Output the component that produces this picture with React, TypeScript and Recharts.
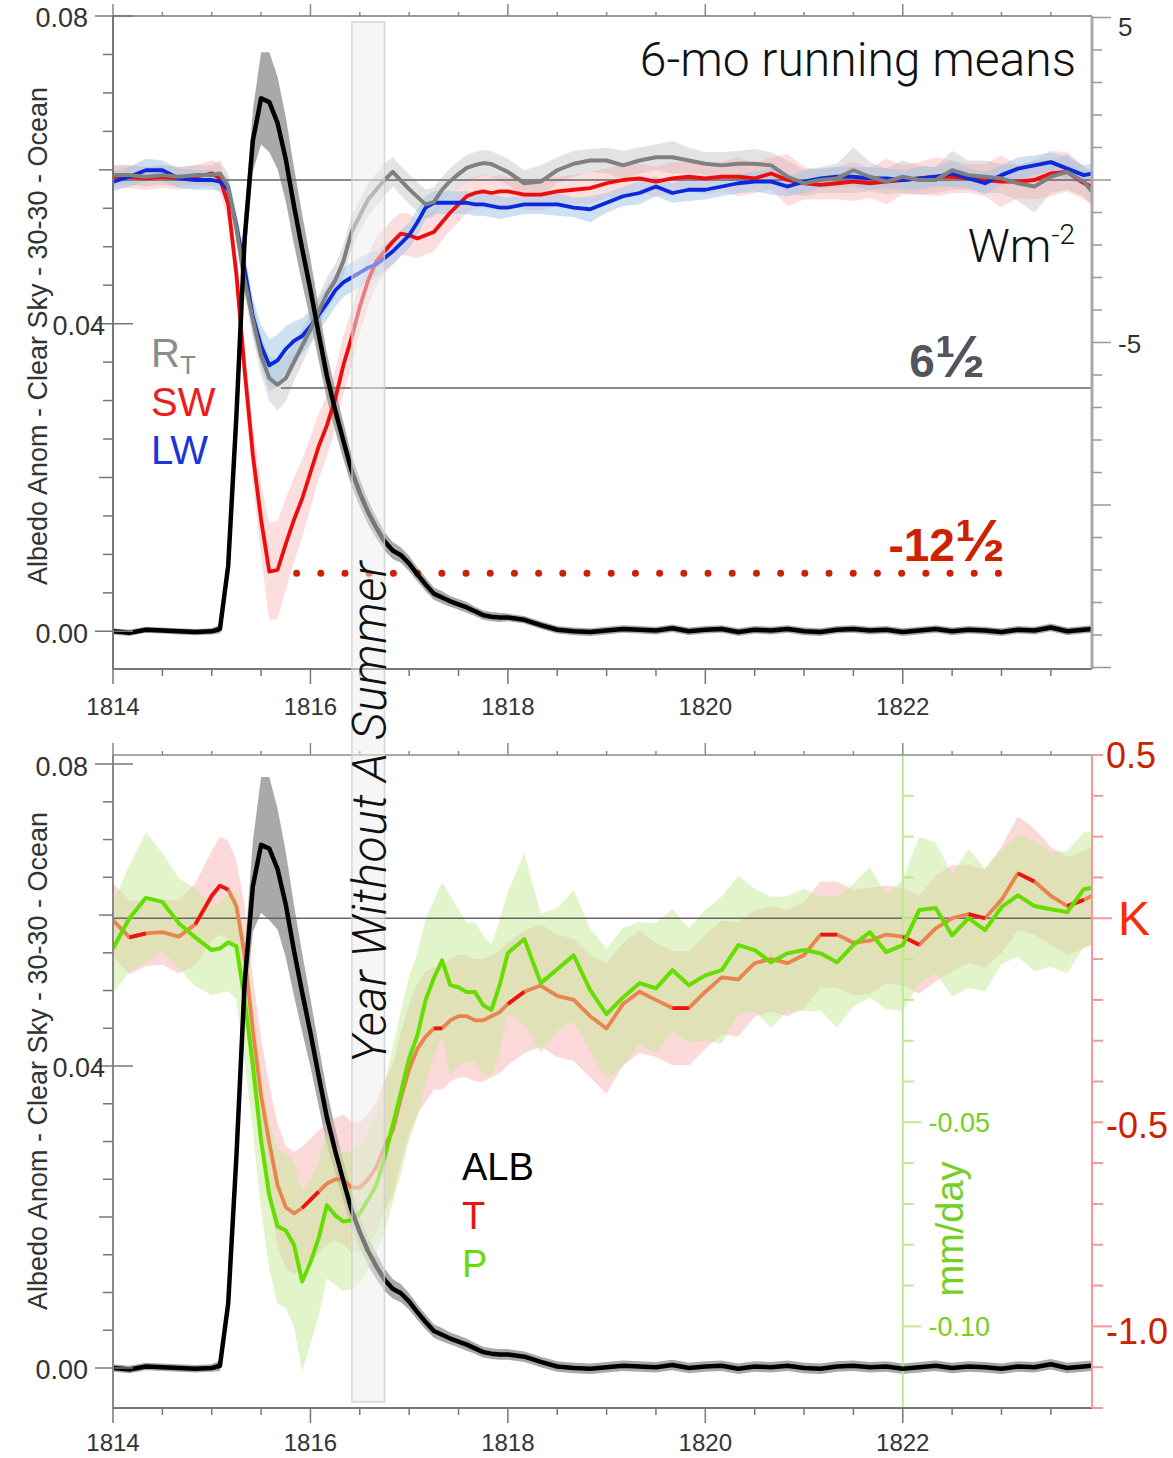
import React from 'react';
import { ComposedChart, Area, Line, XAxis, YAxis, ReferenceLine } from 'recharts';

// month offsets from Jan 1814 (bi-monthly outside the eruption years)
const months = [
  0, 2, 4, 6, 8, 10,
  12, 13, 14, 15, 16, 17, 18, 19, 20, 21, 22, 23, 24, 25, 26, 27, 28, 29,
  30, 31, 32, 33, 34, 35, 36, 37, 38, 39, 40, 41, 42, 43, 44, 45, 46, 47,
  48, 50, 52, 54, 56, 58, 60, 62, 64, 66, 68, 70, 72, 74, 76, 78, 80, 82,
  84, 86, 88, 90, 92, 94, 96, 98, 100, 102, 104, 106, 108, 110, 112, 114, 116, 118, 119,
];

// albedo anomaly
const alb = [
  0.0000, -0.0002, 0.0002, 0.0001, 0.0000, -0.0001,
  0.0000, 0.0003, 0.0085, 0.0280, 0.0510, 0.0638, 0.0693, 0.0688, 0.0661, 0.0614, 0.0553, 0.0497,
  0.0444, 0.0387, 0.0332, 0.0288, 0.0248, 0.0209, 0.0180, 0.0155, 0.0135, 0.0117, 0.0105, 0.0099,
  0.0088, 0.0074, 0.0061, 0.0049, 0.0044, 0.0039, 0.0035, 0.0031, 0.0026, 0.0021, 0.0019, 0.0018,
  0.0018, 0.0015, 0.0008, 0.0002, 0.0000, -0.0001, 0.0001, 0.0003, 0.0002, 0.0001,
  0.0004, 0.0000, 0.0002, 0.0003, -0.0001, 0.0002, 0.0001, 0.0003, 0.0000, -0.0001,
  0.0002, 0.0003, 0.0001, 0.0002, -0.0001, 0.0001, 0.0003, 0.0000, 0.0002, 0.0001,
  -0.0001, 0.0002, 0.0001, 0.0005, 0.0000, 0.0002, 0.0003,
];
const albSprTop = [
  0.0004, 0.0004, 0.0004, 0.0004, 0.0004, 0.0004,
  0.0004, 0.0006, 0.0012, 0.0020, 0.0030, 0.0040, 0.0060, 0.0065, 0.0060, 0.0055, 0.0050, 0.0045,
  0.0040, 0.0035, 0.0030, 0.0027, 0.0024, 0.0020, 0.0018, 0.0016, 0.0014, 0.0012, 0.0011, 0.0010,
  0.0010, 0.0009, 0.0009, 0.0008, 0.0008, 0.0007, 0.0007, 0.0007, 0.0006, 0.0006, 0.0006, 0.0006,
  0.0005, 0.0005, 0.0005, 0.0005, 0.0005, 0.0005, 0.0005, 0.0005, 0.0005, 0.0005,
  0.0005, 0.0005, 0.0005, 0.0005, 0.0005, 0.0005, 0.0005, 0.0005, 0.0005, 0.0005,
  0.0005, 0.0005, 0.0005, 0.0005, 0.0005, 0.0005, 0.0005, 0.0005, 0.0005, 0.0005,
  0.0005, 0.0005, 0.0005, 0.0005, 0.0005, 0.0005, 0.0005,
];
const albSprBot = [
  0.0005, 0.0005, 0.0005, 0.0005, 0.0005, 0.0005,
  0.0005, 0.0007, 0.0015, 0.0025, 0.0040, 0.0060, 0.0090, 0.0095, 0.0080, 0.0070, 0.0060, 0.0052,
  0.0045, 0.0040, 0.0035, 0.0030, 0.0027, 0.0024, 0.0021, 0.0019, 0.0017, 0.0015, 0.0013, 0.0012,
  0.0011, 0.0010, 0.0010, 0.0009, 0.0009, 0.0008, 0.0008, 0.0008, 0.0007, 0.0007, 0.0007, 0.0007,
  0.0007, 0.0007, 0.0007, 0.0007, 0.0007, 0.0007, 0.0007, 0.0007, 0.0007, 0.0007,
  0.0007, 0.0007, 0.0007, 0.0007, 0.0007, 0.0007, 0.0007, 0.0007, 0.0007, 0.0007,
  0.0007, 0.0007, 0.0007, 0.0007, 0.0007, 0.0007, 0.0007, 0.0007, 0.0007, 0.0007,
  0.0007, 0.0007, 0.0007, 0.0007, 0.0007, 0.0007, 0.0007,
];

// top-of-atmosphere fluxes, W m-2
const rt = [
  0.15, 0.15, 0.1, 0.15, 0.1, 0.15,
  0.15, 0.2, -0.2, -1.5, -3.1, -4.3, -5.4, -6.1, -6.3, -6.1, -5.6, -5.1,
  -4.6, -4.05, -3.5, -3.1, -2.5, -1.6, -1.1, -0.6, -0.3, 0.0, 0.25, -0.02,
  -0.28, -0.52, -0.75, -0.68, -0.3, -0.03, 0.18, 0.37, 0.46, 0.52, 0.49, 0.37,
  0.25, -0.1, -0.05, 0.3, 0.5, 0.6, 0.6, 0.45, 0.6, 0.7,
  0.7, 0.6, 0.5, 0.45, 0.5, 0.5, 0.45, 0.1, -0.1, 0.0,
  0.05, 0.3, 0.1, -0.05, 0.1, 0.0, 0.0, 0.3, 0.15, 0.1,
  0.05, -0.1, -0.2, 0.1, 0.25, -0.05, -0.35,
];
const rtSpr = [
  0.3, 0.3, 0.3, 0.3, 0.3, 0.3,
  0.3, 0.4, 0.4, 0.45, 0.5, 0.55, 0.6, 0.7, 0.8, 0.7, 0.6, 0.55,
  0.5, 0.5, 0.5, 0.5, 0.5, 0.5, 0.5, 0.5, 0.5, 0.5, 0.45, 0.45,
  0.45, 0.45, 0.45, 0.45, 0.4, 0.4, 0.4, 0.4, 0.4, 0.4, 0.4, 0.4,
  0.4, 0.4, 0.5, 0.4, 0.4, 0.35, 0.4, 0.45, 0.4, 0.4,
  0.5, 0.4, 0.35, 0.4, 0.4, 0.45, 0.4, 0.5, 0.4, 0.4,
  0.45, 0.7, 0.45, 0.4, 0.5, 0.45, 0.4, 0.6, 0.45, 0.5,
  0.45, 0.55, 0.8, 0.5, 0.55, 0.45, 0.5,
];
const sw = [
  0.1, 0.1, 0.05, 0.1, 0.05, 0.1,
  0.2, 0.05, -0.75, -2.9, -5.85, -8.45, -10.45, -12.05, -12.0, -11.2, -10.45, -9.8,
  -9.0, -8.2, -7.55, -6.75, -5.7, -4.85, -3.9, -3.1, -2.5, -2.2, -1.9, -1.65,
  -1.7, -1.8, -1.7, -1.6, -1.3, -1.0, -0.75, -0.5, -0.4, -0.35, -0.4, -0.35,
  -0.35, -0.45, -0.45, -0.35, -0.3, -0.25, -0.1, 0.0, 0.05, -0.05,
  0.05, 0.1, 0.05, 0.1, 0.1, 0.05, 0.2, 0.0, -0.1, -0.15,
  -0.1, -0.05, -0.1, -0.05, 0.0, 0.05, 0.1, 0.1, 0.05, 0.0,
  -0.05, -0.05, 0.0, 0.2, 0.25, -0.1, -0.2,
];
const swSpr = [
  0.35, 0.35, 0.35, 0.35, 0.35, 0.35,
  0.4, 0.45, 0.5, 0.6, 0.7, 0.9, 1.1, 1.5, 1.5, 1.4, 1.3, 1.2,
  1.1, 1.0, 0.95, 0.9, 0.9, 0.85, 0.8, 0.8, 0.75, 0.7, 0.7, 0.65,
  0.65, 0.6, 0.6, 0.6, 0.55, 0.55, 0.55, 0.5, 0.5, 0.5, 0.5, 0.5,
  0.45, 0.45, 0.5, 0.45, 0.45, 0.5, 0.45, 0.5, 0.45, 0.45,
  0.5, 0.45, 0.5, 0.45, 0.6, 0.45, 0.5, 0.8, 0.5, 0.45,
  0.5, 0.6, 0.45, 0.7, 0.45, 0.5, 0.6, 0.5, 0.45, 0.5,
  0.8, 0.5, 0.6, 0.7, 0.6, 0.5, 0.5,
];
const lw = [
  -0.05, 0.1, 0.3, 0.3, 0.05, 0.0,
  0.0, -0.05, -0.3, -1.4, -2.75, -4.2, -5.1, -5.7, -5.55, -5.2, -4.95, -4.8,
  -4.5, -4.15, -3.8, -3.4, -3.15, -3.0, -2.85, -2.7, -2.6, -2.4, -2.2, -1.95,
  -1.7, -1.3, -0.85, -0.7, -0.7, -0.7, -0.7, -0.7, -0.75, -0.75, -0.8, -0.85,
  -0.85, -0.75, -0.75, -0.75, -0.85, -0.9, -0.7, -0.5, -0.4, -0.2,
  -0.4, -0.3, -0.3, -0.2, -0.1, -0.05, -0.05, -0.2, -0.05, 0.05,
  0.1, 0.1, 0.05, 0.05, 0.0, 0.05, 0.1, 0.2, 0.05, -0.1,
  0.15, 0.35, 0.45, 0.55, 0.35, 0.15, 0.2,
];
const lwSpr = [
  0.3, 0.3, 0.35, 0.3, 0.3, 0.3,
  0.3, 0.3, 0.35, 0.4, 0.5, 0.55, 0.65, 0.8, 0.8, 0.7, 0.6, 0.55,
  0.5, 0.5, 0.5, 0.5, 0.45, 0.45, 0.45, 0.45, 0.4, 0.4, 0.4, 0.4,
  0.4, 0.4, 0.35, 0.35, 0.35, 0.35, 0.35, 0.35, 0.35, 0.35, 0.35, 0.35,
  0.3, 0.3, 0.3, 0.35, 0.3, 0.4, 0.3, 0.3, 0.35, 0.3,
  0.3, 0.35, 0.3, 0.3, 0.3, 0.3, 0.4, 0.3, 0.35, 0.3,
  0.3, 0.3, 0.35, 0.3, 0.3, 0.35, 0.3, 0.4, 0.3, 0.35,
  0.3, 0.35, 0.3, 0.3, 0.35, 0.3, 0.3,
];

// surface temperature, K
const temp = [
  -0.005, -0.047, -0.037, -0.034, -0.045, -0.015,
  0.055, 0.08, 0.07, 0.03, -0.09, -0.275, -0.434, -0.55, -0.654, -0.708, -0.723, -0.71,
  -0.69, -0.67, -0.65, -0.64, -0.64, -0.66, -0.66, -0.64, -0.61, -0.56, -0.52, -0.44,
  -0.37, -0.32, -0.29, -0.27, -0.27, -0.25, -0.24, -0.24, -0.25, -0.25, -0.24, -0.23,
  -0.21, -0.18, -0.165, -0.19, -0.20, -0.24, -0.27, -0.21, -0.18, -0.20,
  -0.22, -0.22, -0.18, -0.145, -0.15, -0.11, -0.10, -0.11, -0.09, -0.04,
  -0.04, -0.06, -0.055, -0.04, -0.045, -0.065, -0.025, 0.0, 0.01, 0.0,
  0.045, 0.11, 0.09, 0.055, 0.03, 0.045, 0.055,
];
const tSpr = [
  0.09, 0.09, 0.08, 0.08, 0.09, 0.1,
  0.11, 0.12, 0.12, 0.11, 0.12, 0.13, 0.14, 0.14, 0.15, 0.15, 0.15, 0.15,
  0.15, 0.15, 0.15, 0.15, 0.16, 0.16, 0.16, 0.16, 0.16, 0.16, 0.16, 0.16,
  0.16, 0.16, 0.16, 0.15, 0.15, 0.15, 0.15, 0.15, 0.15, 0.15, 0.15, 0.15,
  0.15, 0.15, 0.15, 0.15, 0.15, 0.15, 0.16, 0.15, 0.15, 0.14,
  0.14, 0.14, 0.14, 0.14, 0.14, 0.13, 0.13, 0.13, 0.13, 0.13,
  0.13, 0.13, 0.13, 0.12, 0.12, 0.12, 0.13, 0.13, 0.12, 0.12,
  0.13, 0.14, 0.13, 0.12, 0.12, 0.12, 0.12,
];
// months where the temperature change is drawn in red
const tRedMonths = [2, 4, 10, 12, 13, 14, 23, 24, 25, 39, 40, 48, 50, 68, 70, 86, 88, 96, 98, 104, 106, 110, 112, 116, 118];

// precipitation, mm/day
const precip = [
  -0.0074, 0.0000, 0.0050, 0.0040, -0.0012, -0.0047,
  -0.0078, -0.0074, -0.0059, -0.0069, -0.0200, -0.0360, -0.0544, -0.0679, -0.0755, -0.0765, -0.0800, -0.0890,
  -0.0843, -0.0784, -0.0703, -0.0728, -0.0743, -0.0740, -0.0723, -0.0690, -0.0654, -0.0588, -0.0507, -0.0426,
  -0.0343, -0.0287, -0.0201, -0.0147, -0.0103, -0.0164, -0.0169, -0.0181, -0.0181, -0.0213, -0.0225, -0.0164,
  -0.0085, -0.0051, -0.0159, -0.0125, -0.0091, -0.0176, -0.0235, -0.0194, -0.0159, -0.0172,
  -0.0127, -0.0164, -0.0140, -0.0127, -0.0066, -0.0078, -0.0108, -0.0086, -0.0078, -0.0086,
  -0.0108, -0.0066, -0.0034, -0.0083, -0.0066, 0.0020, 0.0025, -0.0042, 0.0000, -0.0029,
  0.0027, 0.0056, 0.0030, 0.0022, 0.0015, 0.0071, 0.0074,
];
const pSpr = [
  0.011, 0.013, 0.016, 0.012, 0.011, 0.012,
  0.011, 0.011, 0.012, 0.013, 0.015, 0.016, 0.017, 0.018, 0.019, 0.019, 0.02, 0.022,
  0.02, 0.019, 0.018, 0.017, 0.017, 0.017, 0.017, 0.017, 0.017, 0.018, 0.019, 0.02,
  0.02, 0.02, 0.02, 0.019, 0.019, 0.022, 0.019, 0.017, 0.017, 0.017, 0.016, 0.016,
  0.015, 0.021, 0.017, 0.015, 0.016, 0.015, 0.016, 0.017, 0.015, 0.016,
  0.015, 0.014, 0.016, 0.018, 0.017, 0.015, 0.016, 0.014, 0.015, 0.014,
  0.016, 0.015, 0.016, 0.014, 0.016, 0.018, 0.016, 0.015, 0.017, 0.015,
  0.014, 0.015, 0.016, 0.014, 0.015, 0.014, 0.014,
];

// axes
const X_DOMAIN = [1814, 1823.917];
const xTicks = [1814, 1814.5, 1815, 1815.5, 1816, 1816.5, 1817, 1817.5, 1818, 1818.5, 1819, 1819.5, 1820, 1820.5, 1821, 1821.5, 1822, 1822.5, 1823, 1823.5];
const xLabelYears = [1814, 1816, 1818, 1820, 1822];
const albTicks = [0, 0.005, 0.01, 0.015, 0.02, 0.025, 0.03, 0.035, 0.04, 0.045, 0.05, 0.055, 0.06, 0.065, 0.07, 0.075, 0.08];
const albLabels = [0, 0.04, 0.08];
const wTicks = [5, 4, 3, 2, 1, 0, -1, -2, -3, -4, -5, -6, -7, -8, -9, -10, -11, -12, -13, -14, -15];
const wLabels = [5, -5];
const kTicks = [0.4, 0.3, 0.2, 0.1, 0, -0.1, -0.2, -0.3, -0.4, -0.5, -0.6, -0.7, -0.8, -0.9, -1.0, -1.1, -1.2];
const kLabels: Record<string, string> = { '0.4': '0.5', '0': 'K', '-0.5': '-0.5', '-1': '-1.0' };
const pTicks = [0.04, 0.03, 0.02, 0.01, 0, -0.01, -0.02, -0.03, -0.04, -0.05, -0.06, -0.07, -0.08, -0.09, -0.1, -0.11, -0.12];
const pLabels = [-0.05, -0.1];
const PRECIP_AXIS_YEAR = 1822;

// annotations
const RT_MIN = -6.4;
const SW_MIN = -12.1;
const SUMMER = [1816.42, 1816.75];

const rows = months.map((m, i) => ({
  year: 1814 + m / 12,
  alb: alb[i],
  albBandTop: [alb[i] - albSprTop[i], alb[i] + albSprTop[i]],
  albBandBot: [alb[i] - albSprBot[i], alb[i] + albSprBot[i]],
  rt: rt[i],
  rtBand: [rt[i] - rtSpr[i], rt[i] + rtSpr[i]],
  sw: sw[i],
  swBand: [sw[i] - swSpr[i], sw[i] + swSpr[i]],
  lw: lw[i],
  lwBand: [lw[i] - lwSpr[i], lw[i] + lwSpr[i]],
  t: temp[i],
  tRed: tRedMonths.includes(m) ? temp[i] : null,
  tBand: [temp[i] - tSpr[i], temp[i] + tSpr[i]],
  p: precip[i],
  pBand: [precip[i] - pSpr[i], precip[i] + pSpr[i]],
}));

const W = 1173;
const PLOT_L = 113;
const PLOT_R = 1092;
const Y_W = 60;
const SANS = "'Liberation Sans', Arial, Helvetica, sans-serif";
const LIGHT = "Roboto, 'Liberation Sans', sans-serif";
const px = (yr: number) => PLOT_L + ((yr - X_DOMAIN[0]) / (X_DOMAIN[1] - X_DOMAIN[0])) * (PLOT_R - PLOT_L);

const near = (a: number, b: number) => Math.abs(a - b) < 1e-9;

const makeBottomXTick = (labelGap: number) => (p: any) => {
  const v = p.payload.value;
  const lab = xLabelYears.some((y) => near(y, v));
  return (
    <g>
      <line x1={p.x} x2={p.x} y1={p.y} y2={p.y + (lab ? 15 : 7)} stroke="#777" strokeWidth={1.5} />
      {lab && (
        <text x={p.x} y={p.y + labelGap} dy="0.35em" textAnchor="middle" fontSize={24} fill="#333" fontFamily={SANS}>
          {v}
        </text>
      )}
    </g>
  );
};
const TopPanelXTick = makeBottomXTick(38);
const BottomPanelXTick = makeBottomXTick(35);

const TopXTick = (p: any) => {
  const v = p.payload.value;
  const lab = xLabelYears.some((y) => near(y, v));
  return <line x1={p.x} x2={p.x} y1={p.y} y2={p.y - (lab ? 12 : 4)} stroke="#888" strokeWidth={1.5} />;
};

const AlbTick = (p: any) => {
  const v = p.payload.value;
  const lab = albLabels.some((a) => near(a, v));
  const mid = near(Math.round(v / 0.02) * 0.02, v);
  // the middle label sits closer to the axis, clear of the axis title
  const shifted = near(v, 0.04);
  return (
    <g>
      <line x1={p.x - (lab ? 18 : mid ? 14 : 10)} x2={p.x + (lab ? 20 : 0)} y1={p.y} y2={p.y} stroke="#777" strokeWidth={1.5} />
      {lab && (
        <text x={p.x - (shifted ? 8 : 25)} y={p.y + 2} dy="0.35em" textAnchor="end" fontSize={27} fill="#333" fontFamily={SANS}>
          {v.toFixed(2)}
        </text>
      )}
    </g>
  );
};

const WTick = (p: any) => {
  const v = p.payload.value;
  const major = v % 5 === 0;
  const lab = wLabels.includes(v);
  return (
    <g>
      <line x1={p.x} x2={p.x + (major ? 19 : 10)} y1={p.y} y2={p.y} stroke="#999" strokeWidth={1.5} />
      {lab && (
        <text x={p.x + 26} y={p.y + (v === 5 ? 9 : 1)} dy="0.35em" fontSize={26} fill="#333" fontFamily={SANS}>
          {v}
        </text>
      )}
    </g>
  );
};

const KTick = (p: any) => {
  const v = Math.round(p.payload.value * 10) / 10;
  const lab = kLabels[String(v)];
  const isK = v === 0;
  const long = isK || v === -1;
  return (
    <g>
      <line x1={p.x} x2={p.x + (long ? 20 : 11)} y1={p.y} y2={p.y} stroke="#f39a9a" strokeWidth={2} />
      {lab && (
        <text
          x={p.x + (isK ? 26 : 14)}
          y={p.y + (v === -1 ? 5 : v === -0.5 ? 3 : 0)}
          dy="0.35em"
          fontSize={isK ? 48 : 36}
          fill={isK ? '#ff2a00' : '#cc2200'}
          fontFamily={SANS}
        >
          {lab}
        </text>
      )}
    </g>
  );
};

const noAnim = { isAnimationActive: false, dot: false, activeDot: false } as const;

function TopPanel() {
  return (
    <ComposedChart width={W} height={730} data={rows} margin={{ top: 15, right: W - PLOT_R - Y_W, bottom: 21, left: PLOT_L - Y_W }}>
      <XAxis type="number" dataKey="year" domain={X_DOMAIN} ticks={xTicks} interval={0} allowDataOverflow height={40}
        tickSize={0} tickMargin={0} tickLine={false} axisLine={{ stroke: '#777', strokeWidth: 2 }} tick={TopPanelXTick} />
      <XAxis xAxisId="top" orientation="top" type="number" dataKey="year" domain={X_DOMAIN} ticks={xTicks} interval={0}
        allowDataOverflow height={1} tickSize={0} tickMargin={0} tickLine={false} axisLine={{ stroke: '#999', strokeWidth: 2 }} tick={TopXTick} />
      <YAxis yAxisId="alb" type="number" domain={[-0.0049, 0.08]} ticks={albTicks} interval={0} allowDataOverflow width={Y_W}
        tickSize={0} tickMargin={0} tickLine={false} axisLine={{ stroke: '#777', strokeWidth: 2 }} tick={AlbTick} />
      <YAxis yAxisId="w" orientation="right" type="number" domain={[-15.046, 5.046]} ticks={wTicks} interval={0} allowDataOverflow
        width={Y_W} tickSize={0} tickMargin={0} tickLine={false} axisLine={{ stroke: '#aaa', strokeWidth: 3 }} tick={WTick} />

      <Area yAxisId="w" dataKey="rtBand" stroke="none" fill="#cccccc" fillOpacity={0.55} {...noAnim} />
      <Area yAxisId="w" dataKey="swBand" stroke="none" fill="#f5a0a0" fillOpacity={0.35} {...noAnim} />
      <Area yAxisId="w" dataKey="lwBand" stroke="none" fill="#9cc4e8" fillOpacity={0.5} {...noAnim} />
      <Area yAxisId="alb" dataKey="albBandTop" stroke="none" fill="#9a9a9a" fillOpacity={0.85} {...noAnim} />

      <ReferenceLine yAxisId="w" y={0} stroke="#666" strokeWidth={1.5} />
      <ReferenceLine yAxisId="w" segment={[{ x: 1815.7, y: RT_MIN }, { x: X_DOMAIN[1], y: RT_MIN }]} stroke="#666" strokeWidth={1.5} />
      <ReferenceLine yAxisId="w" segment={[{ x: 1815.86, y: SW_MIN }, { x: 1823.16, y: SW_MIN }]} stroke="#cc2200"
        strokeWidth={7} strokeDasharray="0 24.2" strokeLinecap="round" />

      <Line yAxisId="w" dataKey="sw" stroke="#ee0c0c" strokeWidth={3.8} strokeLinejoin="round" {...noAnim} />
      <Line yAxisId="w" dataKey="lw" stroke="#0a28dc" strokeWidth={3.8} strokeLinejoin="round" {...noAnim} />
      <Line yAxisId="w" dataKey="rt" stroke="#808080" strokeWidth={4} strokeLinejoin="round" {...noAnim} />
      <Line yAxisId="alb" dataKey="alb" stroke="#000" strokeWidth={4.5} strokeLinejoin="round" {...noAnim} />
    </ComposedChart>
  );
}

function BottomPanel() {
  return (
    <ComposedChart width={W} height={728} data={rows} margin={{ top: 24, right: W - PLOT_R - Y_W, bottom: 10, left: PLOT_L - Y_W }}>
      <XAxis type="number" dataKey="year" domain={X_DOMAIN} ticks={xTicks} interval={0} allowDataOverflow height={40}
        tickSize={0} tickMargin={0} tickLine={false} axisLine={{ stroke: '#777', strokeWidth: 2 }} tick={BottomPanelXTick} />
      <XAxis xAxisId="top" orientation="top" type="number" dataKey="year" domain={X_DOMAIN} ticks={xTicks} interval={0}
        allowDataOverflow height={1} tickSize={0} tickMargin={0} tickLine={false} axisLine={{ stroke: '#aaa', strokeWidth: 2 }} tick={TopXTick} />
      <YAxis yAxisId="alb" type="number" domain={[-0.0053, 0.0812]} ticks={albTicks} interval={0} allowDataOverflow width={Y_W}
        tickSize={0} tickMargin={0} tickLine={false} axisLine={{ stroke: '#888', strokeWidth: 2 }} tick={AlbTick} />
      <YAxis yAxisId="t" orientation="right" type="number" domain={[-1.2, 0.4]} ticks={kTicks} interval={0} allowDataOverflow
        width={Y_W} tickSize={0} tickMargin={0} tickLine={false} axisLine={{ stroke: '#f39a9a', strokeWidth: 2 }} tick={KTick} />
      <YAxis yAxisId="p" hide type="number" domain={[-0.12, 0.04]} allowDataOverflow />

      <Area yAxisId="alb" dataKey="albBandBot" stroke="none" fill="#9a9a9a" fillOpacity={0.85} {...noAnim} />
      <Area yAxisId="t" dataKey="tBand" stroke="none" fill="#f6abab" fillOpacity={0.45} {...noAnim} />
      <Area yAxisId="p" dataKey="pBand" stroke="none" fill="#c6ea96" fillOpacity={0.5} {...noAnim} />

      <ReferenceLine yAxisId="t" y={0} stroke="#666" strokeWidth={1.5} />
      <ReferenceLine yAxisId="alb" x={PRECIP_AXIS_YEAR} stroke="#bde892" strokeWidth={2} />
      {pTicks.map((v) => {
        const lab = pLabels.some((l) => near(l, v));
        return (
          <ReferenceLine
            key={v}
            yAxisId="p"
            segment={[{ x: PRECIP_AXIS_YEAR, y: v }, { x: PRECIP_AXIS_YEAR + (lab ? 0.19 : 0.11), y: v }]}
            stroke="#bde892"
            strokeWidth={2}
            label={lab ? { value: v.toFixed(2), position: 'right', offset: 7, fill: '#77cf25', fontSize: 27, fontFamily: SANS } : undefined}
          />
        );
      })}

      <Line yAxisId="t" dataKey="t" stroke="#e8844e" strokeWidth={3.8} strokeLinejoin="round" {...noAnim} />
      <Line yAxisId="t" dataKey="tRed" stroke="#ee1414" strokeWidth={3.8} strokeLinejoin="round" {...noAnim} />
      <Line yAxisId="p" dataKey="p" stroke="#66dd00" strokeWidth={4} strokeLinejoin="round" {...noAnim} />
      <Line yAxisId="alb" dataKey="alb" stroke="#000" strokeWidth={4.5} strokeLinejoin="round" {...noAnim} />
    </ComposedChart>
  );
}

function Annotations() {
  const bx0 = px(SUMMER[0]);
  const bx1 = px(SUMMER[1]);
  const axisTitle = 'Albedo Anom - Clear Sky - 30-30 - Ocean';
  return (
    <svg width={W} height={1458} style={{ position: 'absolute', left: 0, top: 0, pointerEvents: 'none' }}>
      <rect x={bx0} y={22} width={bx1 - bx0} height={1380} fill="rgba(238,238,238,0.5)" stroke="rgba(205,205,205,0.8)" strokeWidth={1.5} />
      <text transform={`translate(${(bx0 + bx1) / 2 + 18}, 812) rotate(-90)`} textAnchor="middle" fontSize={48}
        fontStyle="italic" fontWeight={300} fontFamily={LIGHT} fill="#111" letterSpacing={0.6}>Year Without A Summer</text>

      <text x={1076} y={76} textAnchor="end" fontSize={48} fontWeight={300} fontFamily={LIGHT} fill="#111">6-mo running means</text>
      <text x={1075} y={262} textAnchor="end" fontSize={47} fontWeight={300} fontFamily={LIGHT} fill="#111">
        Wm<tspan fontSize={28} dy={-18}>-2</tspan>
      </text>
      <text x={985} y={377} textAnchor="end" fontSize={46} fontWeight="bold" fontFamily={SANS} fill="#50555e">
        6<tspan fontSize={60}>½</tspan>
      </text>
      <text x={1005} y={561} textAnchor="end" fontSize={46} fontWeight="bold" fontFamily={SANS} fill="#cc2200">
        -12<tspan fontSize={60}>½</tspan>
      </text>

      <text x={151} y={367} fontSize={40} fontFamily={SANS} fill="#8c8c8c">R<tspan fontSize={26} dy={7}>T</tspan></text>
      <text x={151} y={416} fontSize={40} fontFamily={SANS} fill="#ee1c1c">SW</text>
      <text x={151} y={464} fontSize={40} fontFamily={SANS} fill="#1a35d8">LW</text>

      <text x={462} y={1180} fontSize={38} fontFamily={SANS} fill="#000">ALB</text>
      <text x={462} y={1229} fontSize={38} fontFamily={SANS} fill="#ee1111">T</text>
      <text x={462} y={1277} fontSize={38} fontFamily={SANS} fill="#66dd00">P</text>

      <text transform="translate(47, 336) rotate(-90)" textAnchor="middle" fontSize={27} fontFamily={SANS} fill="#333">{axisTitle}</text>
      <text transform="translate(47, 1061) rotate(-90)" textAnchor="middle" fontSize={27} fontFamily={SANS} fill="#333">{axisTitle}</text>
      <text transform="translate(963, 1229) rotate(-90)" textAnchor="middle" fontSize={38} fontFamily={SANS} fill="#77cf25">mm/day</text>
    </svg>
  );
}

export default function App() {
  return (
    <div style={{ position: 'absolute', left: 0, top: 0, width: W, height: 1458, background: '#fff', overflow: 'hidden' }}>
      <div style={{ position: 'absolute', left: 0, top: 0 }}>
        <TopPanel />
      </div>
      <div style={{ position: 'absolute', left: 0, top: 730 }}>
        <BottomPanel />
      </div>
      <Annotations />
    </div>
  );
}
